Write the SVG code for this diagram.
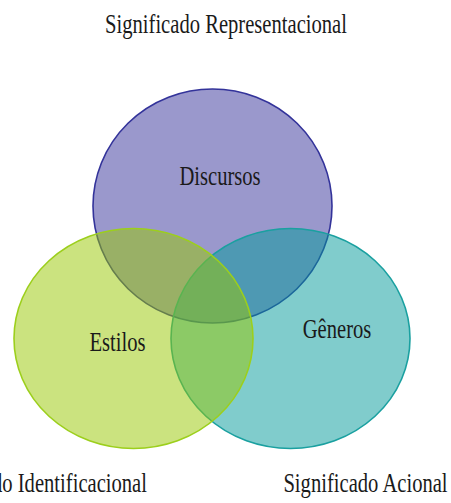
<svg xmlns="http://www.w3.org/2000/svg" width="451" height="503" viewBox="0 0 451 503">
  <style>
    .lbl { font-family: "Liberation Serif", "Times New Roman", serif; font-size: 20.6px; fill: #1a1a1a; text-anchor: middle; }
    .set { fill-opacity: 0.5; stroke-width: 1.6; }
    .discursos { fill: #353199; stroke: #33339a; }
    .generos { fill: #019999; stroke: #1aa0a0; }
    .estilos { fill: #97c700; stroke: #9ccf1c; }
  </style>
  <rect width="451" height="503" fill="#ffffff"/>

  <!-- Venn sets -->
  <g id="node-discursos">
    <ellipse class="set discursos" cx="212.5" cy="206" rx="119.5" ry="117"/>
  </g>
  <g id="node-generos">
    <ellipse class="set generos" cx="290.5" cy="338.5" rx="119.5" ry="110"/>
  </g>
  <g id="node-estilos">
    <ellipse class="set estilos" cx="133.5" cy="338.5" rx="119.5" ry="110"/>
  </g>

  <!-- Set labels -->
  <g id="label-discursos">
    <text class="lbl" transform="translate(220,185) scale(1,1.35)">Discursos</text>
  </g>
  <g id="label-estilos">
    <text class="lbl" transform="translate(117.5,351) scale(1,1.35)">Estilos</text>
  </g>
  <g id="label-generos">
    <text class="lbl" transform="translate(337,338) scale(1,1.35)">Gêneros</text>
  </g>

  <!-- Meaning captions -->
  <g id="caption-representacional">
    <text class="lbl" transform="translate(226,33) scale(1,1.35)">Significado Representacional</text>
  </g>
  <g id="caption-identificacional">
    <text class="lbl" style="text-anchor:end" transform="translate(147,492) scale(1,1.35)">Significado Identificacional</text>
  </g>
  <g id="caption-acional">
    <text class="lbl" transform="translate(365.5,492) scale(1,1.35)">Significado Acional</text>
  </g>

  <g id="connectors"></g>
</svg>
